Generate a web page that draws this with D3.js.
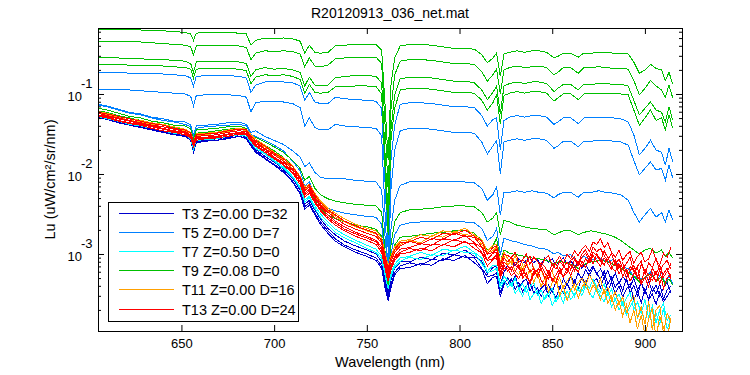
<!DOCTYPE html>
<html>
<head>
<meta charset="utf-8">
<script src="https://cdn.jsdelivr.net/npm/d3@7"></script>
<style>
  body { margin: 0; background: #fff; }
  svg text { font-family: "Liberation Sans", Arial, Helvetica, sans-serif; fill: #000; }
</style>
</head>
<body>
<div id="chart"></div>
<script>
// Wavelength grid (nm) for the smoother profiles
const wavelength = [
  605, 610, 616, 622, 628, 634, 640, 646, 652, 655,
  656.5, 658, 663, 669, 675, 681, 685, 687.5, 690, 695,
  700, 705, 710, 714, 716.5, 719, 722, 725, 729, 733,
  738, 744, 750, 755, 758, 760, 761.5, 763, 765, 768,
  773, 779, 785, 791, 797, 803, 808, 812, 815, 818,
  820, 822, 824, 827, 831, 835, 839, 843, 847, 851,
  853, 856, 860, 864, 867, 871, 875, 879, 883, 887,
  891, 894, 897, 900, 903, 906, 909, 911, 913, 915
];
// Noisy profiles (T3, T7, T11, T13) use the same grid up to 824 nm, then this finer tail
const wavelengthTail = [
  826, 828, 830, 832, 834, 836, 838, 840, 842, 844,
  846, 848, 850, 852, 854, 856, 858, 860, 862, 864,
  866, 868, 870, 872, 874, 876, 878, 880, 882, 884,
  886, 888, 890, 892, 894, 896, 898, 900, 902, 904,
  906, 908, 910, 912, 914
];
const wavelengthNoisy = wavelength.filter(w => w <= 824).concat(wavelengthTail);

// Profiles, stored as log10(Lu)
// T3 (navy)
const t3a = [
  -1.28,-1.31,-1.34,-1.38,-1.41,-1.44,-1.47,-1.49,-1.52,-1.56,
  -1.70,-1.59,-1.58,-1.56,-1.54,-1.51,-1.54,-1.63,-1.69,-1.78,
  -1.85,-1.94,-2.06,-2.20,-2.38,-2.33,-2.45,-2.56,-2.68,-2.76,
  -2.84,-2.90,-2.95,-3.00,-3.10,-3.35,-3.48,-3.33,-3.18,-3.10,
  -3.10,-3.04,-3.07,-2.99,-3.01,-2.95,-3.03,-3.09,-3.25,-3.17,
  -3.15,-3.38,-3.23,
  -3.14,-3.09,-3.15,-3.06,-3.12,-3.08,-3.04,-3.11,-3.07,-3.13,
  -3.05,-3.10,-3.06,-3.14,-3.09,-3.05,-3.12,-3.08,-3.16,-3.10,
  -3.18,-3.12,-3.22,-3.15,-3.25,-3.19,-3.28,-3.21,-3.33,-3.24,
  -3.37,-3.28,-3.34,-3.42,-3.30,-3.45,-3.36,-3.50,-3.33,-3.47,
  -3.39,-3.53,-3.42,-3.36,-3.48
];
const t3b = [
  -1.29,-1.31,-1.35,-1.39,-1.41,-1.44,-1.48,-1.50,-1.53,-1.58,
  -1.71,-1.60,-1.59,-1.58,-1.55,-1.53,-1.55,-1.64,-1.71,-1.80,
  -1.88,-1.96,-2.09,-2.24,-2.41,-2.36,-2.49,-2.60,-2.71,-2.81,
  -2.89,-2.95,-3.00,-3.05,-3.15,-3.40,-3.53,-3.38,-3.23,-3.15,
  -3.11,-3.14,-3.07,-3.08,-3.01,-3.04,-3.05,-3.18,-3.28,-3.27,
  -3.23,-3.48,-3.35,
  -3.38,-3.31,-3.44,-3.36,-3.47,-3.40,-3.34,-3.49,-3.42,-3.53,
  -3.45,-3.39,-3.48,-3.35,-3.44,-3.31,-3.40,-3.27,-3.36,-3.24,
  -3.31,-3.20,-3.27,-3.17,-3.24,-3.32,-3.21,-3.38,-3.29,-3.42,
  -3.34,-3.46,-3.30,-3.49,-3.39,-3.52,-3.35,-3.47,-3.55,-3.41,
  -3.50,-3.38,-3.56,-3.45,-3.40
];
const t3c = [
  -1.29,-1.32,-1.36,-1.39,-1.42,-1.45,-1.48,-1.51,-1.53,-1.58,
  -1.73,-1.61,-1.59,-1.58,-1.56,-1.53,-1.56,-1.65,-1.73,-1.81,
  -1.89,-1.98,-2.10,-2.25,-2.44,-2.39,-2.51,-2.63,-2.74,-2.84,
  -2.91,-2.98,-3.03,-3.08,-3.18,-3.45,-3.58,-3.43,-3.26,-3.18,
  -3.17,-3.12,-3.14,-3.06,-3.08,-3.02,-3.11,-3.19,-3.37,-3.29,
  -3.28,-3.53,-3.39,
  -3.30,-3.37,-3.27,-3.42,-3.35,-3.31,-3.46,-3.39,-3.50,-3.43,
  -3.38,-3.53,-3.45,-3.55,-3.41,-3.49,-3.36,-3.47,-3.33,-3.43,
  -3.29,-3.38,-3.25,-3.35,-3.31,-3.42,-3.28,-3.46,-3.35,-3.50,
  -3.40,-3.54,-3.44,-3.37,-3.58,-3.46,-3.61,-3.43,-3.57,-3.50,
  -3.63,-3.48,-3.60,-3.53,-3.45
];

// T5 (blue)
const t5a = [
  -0.73,-0.73,-0.73,-0.74,-0.74,-0.75,-0.75,-0.76,-0.77,-0.80,
  -0.90,-0.78,-0.77,-0.77,-0.77,-0.78,-0.80,-0.98,-0.89,-0.85,
  -0.85,-0.85,-0.86,-0.90,-1.08,-0.98,-1.10,-1.12,-1.12,-1.04,
  -1.06,-1.07,-1.08,-1.09,-1.18,-2.20,-2.95,-1.83,-1.39,-1.13,
  -1.11,-1.11,-1.12,-1.14,-1.16,-1.16,-1.17,-1.27,-1.40,-1.32,
  -1.30,-1.70,-1.33,-1.29,-1.27,-1.29,-1.27,-1.27,-1.29,-1.38,
  -1.35,-1.30,-1.30,-1.37,-1.30,-1.30,-1.29,-1.29,-1.30,-1.31,
  -1.35,-1.51,-1.76,-1.68,-1.58,-1.70,-1.73,-1.89,-1.68,-1.85
];
const t5b = [
  -0.94,-0.94,-0.94,-0.95,-0.96,-0.97,-0.98,-0.99,-1.00,-1.03,
  -1.15,-1.02,-1.01,-1.01,-1.01,-1.02,-1.04,-1.22,-1.11,-1.09,
  -1.10,-1.10,-1.12,-1.17,-1.40,-1.30,-1.42,-1.45,-1.45,-1.38,
  -1.40,-1.41,-1.42,-1.43,-1.52,-2.58,-3.26,-2.20,-1.70,-1.46,
  -1.43,-1.43,-1.44,-1.46,-1.48,-1.48,-1.49,-1.60,-1.75,-1.65,
  -1.58,-2.00,-1.60,-1.58,-1.56,-1.58,-1.56,-1.56,-1.58,-1.68,
  -1.65,-1.59,-1.59,-1.66,-1.59,-1.59,-1.58,-1.58,-1.59,-1.60,
  -1.64,-1.83,-2.01,-1.93,-1.85,-1.95,-1.93,-2.08,-1.89,-2.05
];
const t5c = [
  -1.13,-1.15,-1.19,-1.23,-1.25,-1.29,-1.31,-1.34,-1.35,-1.39,
  -1.51,-1.40,-1.39,-1.38,-1.36,-1.35,-1.38,-1.48,-1.46,-1.53,
  -1.58,-1.63,-1.71,-1.79,-1.91,-1.86,-1.98,-2.04,-2.06,-2.05,
  -2.06,-2.08,-2.09,-2.10,-2.20,-2.83,-3.26,-2.70,-2.33,-2.14,
  -2.10,-2.09,-2.09,-2.09,-2.10,-2.10,-2.11,-2.18,-2.33,-2.26,
  -2.16,-2.51,-2.23,-2.23,-2.21,-2.23,-2.21,-2.23,-2.24,-2.30,
  -2.26,-2.23,-2.23,-2.29,-2.23,-2.23,-2.21,-2.23,-2.24,-2.26,
  -2.33,-2.48,-2.60,-2.51,-2.43,-2.54,-2.48,-2.60,-2.45,-2.58
];
const t5d = [
  -1.14,-1.16,-1.20,-1.24,-1.26,-1.30,-1.33,-1.35,-1.38,-1.41,
  -1.54,-1.43,-1.41,-1.40,-1.39,-1.38,-1.40,-1.51,-1.53,-1.58,
  -1.64,-1.71,-1.84,-1.96,-2.15,-2.10,-2.26,-2.36,-2.43,-2.46,
  -2.49,-2.51,-2.53,-2.54,-2.63,-3.10,-3.39,-3.01,-2.76,-2.64,
  -2.61,-2.60,-2.59,-2.59,-2.59,-2.60,-2.61,-2.68,-2.83,-2.78,
  -2.68,-3.01,-2.80,-2.83,-2.85,-2.88,-2.90,-2.93,-2.94,-3.00,
  -2.98,-3.02,-3.01,-3.10,-3.03,-3.08,-3.04,-3.10,-3.07,-3.16,
  -3.18,-3.28,-3.30,-3.31,-3.22,-3.34,-3.24,-3.38,-3.27,-3.37
];

// T7 (cyan)
const t7a = [
  -1.28,-1.30,-1.34,-1.37,-1.39,-1.43,-1.46,-1.48,-1.51,-1.55,
  -1.68,-1.58,-1.56,-1.55,-1.53,-1.50,-1.51,-1.60,-1.66,-1.74,
  -1.83,-1.91,-2.03,-2.16,-2.33,-2.28,-2.40,-2.50,-2.60,-2.69,
  -2.76,-2.83,-2.89,-2.94,-3.03,-3.25,-3.39,-3.25,-3.13,-3.05,
  -3.03,-2.98,-3.02,-2.94,-2.96,-2.90,-2.98,-3.05,-3.22,-3.14,
  -3.14,-3.39,-3.28,
  -3.33,-3.40,-3.30,-3.44,-3.37,-3.48,-3.41,-3.35,-3.52,-3.45,
  -3.57,-3.49,-3.43,-3.60,-3.52,-3.47,-3.58,-3.44,-3.53,-3.40,
  -3.47,-3.36,-3.43,-3.32,-3.41,-3.48,-3.37,-3.52,-3.44,-3.58,
  -3.50,-3.64,-3.55,-3.48,-3.69,-3.60,-3.74,-3.57,-3.80,-3.65,
  -3.86,-3.70,-3.62,-3.83,-3.76
];
const t7b = [
  -1.28,-1.31,-1.34,-1.38,-1.40,-1.43,-1.46,-1.49,-1.51,-1.56,
  -1.69,-1.58,-1.57,-1.56,-1.53,-1.51,-1.53,-1.61,-1.68,-1.75,
  -1.84,-1.93,-2.04,-2.18,-2.35,-2.30,-2.43,-2.54,-2.64,-2.73,
  -2.80,-2.86,-2.93,-2.98,-3.06,-3.29,-3.43,-3.29,-3.16,-3.09,
  -3.04,-3.07,-3.01,-3.02,-2.95,-2.98,-2.99,-3.12,-3.23,-3.21,
  -3.18,-3.43,-3.33,
  -3.42,-3.36,-3.49,-3.44,-3.53,-3.40,-3.57,-3.50,-3.46,-3.62,
  -3.54,-3.48,-3.64,-3.56,-3.50,-3.61,-3.46,-3.57,-3.50,-3.44,
  -3.52,-3.40,-3.48,-3.55,-3.42,-3.53,-3.60,-3.47,-3.66,-3.56,
  -3.70,-3.60,-3.76,-3.66,-3.58,-3.80,-3.70,-3.86,-3.63,-3.92,
  -3.74,-3.88,-3.68,-3.94,-3.80
];

// T9 (green)
const t9a = [
  -0.19,-0.19,-0.19,-0.20,-0.20,-0.21,-0.21,-0.22,-0.23,-0.25,
  -0.33,-0.24,-0.23,-0.23,-0.23,-0.24,-0.25,-0.39,-0.33,-0.30,
  -0.31,-0.30,-0.31,-0.34,-0.49,-0.39,-0.48,-0.49,-0.48,-0.40,
  -0.39,-0.38,-0.38,-0.38,-0.45,-1.20,-1.83,-0.89,-0.55,-0.40,
  -0.38,-0.38,-0.39,-0.41,-0.43,-0.43,-0.44,-0.51,-0.61,-0.55,
  -0.49,-0.78,-0.50,-0.48,-0.46,-0.48,-0.46,-0.46,-0.48,-0.55,
  -0.53,-0.49,-0.49,-0.54,-0.49,-0.49,-0.48,-0.48,-0.49,-0.49,
  -0.50,-0.60,-0.74,-0.70,-0.63,-0.68,-0.70,-0.83,-0.73,-0.88
];
const t9b = [
  -0.34,-0.34,-0.34,-0.35,-0.35,-0.36,-0.37,-0.38,-0.39,-0.41,
  -0.51,-0.40,-0.39,-0.39,-0.39,-0.40,-0.42,-0.57,-0.49,-0.46,
  -0.47,-0.46,-0.47,-0.50,-0.66,-0.55,-0.65,-0.66,-0.64,-0.56,
  -0.55,-0.54,-0.54,-0.54,-0.62,-1.45,-2.20,-1.20,-0.76,-0.59,
  -0.57,-0.57,-0.58,-0.60,-0.62,-0.62,-0.63,-0.72,-0.84,-0.76,
  -0.69,-1.00,-0.70,-0.67,-0.65,-0.67,-0.66,-0.65,-0.67,-0.76,
  -0.73,-0.67,-0.67,-0.74,-0.67,-0.67,-0.66,-0.67,-0.68,-0.68,
  -0.69,-0.83,-1.01,-0.93,-0.83,-0.90,-0.95,-1.04,-0.89,-1.05
];
const t9c = [
  -0.54,-0.54,-0.55,-0.56,-0.56,-0.57,-0.57,-0.58,-0.59,-0.62,
  -0.73,-0.60,-0.59,-0.59,-0.59,-0.60,-0.62,-0.78,-0.70,-0.67,
  -0.69,-0.68,-0.70,-0.73,-0.90,-0.79,-0.89,-0.90,-0.89,-0.80,
  -0.78,-0.77,-0.77,-0.78,-0.86,-1.83,-2.51,-1.45,-1.01,-0.81,
  -0.79,-0.79,-0.80,-0.82,-0.84,-0.84,-0.86,-0.95,-1.07,-0.98,
  -0.90,-1.25,-0.90,-0.87,-0.85,-0.87,-0.85,-0.85,-0.87,-0.97,
  -0.93,-0.88,-0.88,-0.95,-0.88,-0.88,-0.87,-0.87,-0.88,-0.88,
  -0.90,-1.08,-1.26,-1.18,-1.10,-1.20,-1.23,-1.35,-1.16,-1.33
];
const t9d = [
  -0.63,-0.63,-0.63,-0.64,-0.64,-0.65,-0.65,-0.66,-0.67,-0.69,
  -0.80,-0.69,-0.68,-0.68,-0.68,-0.69,-0.71,-0.87,-0.79,-0.76,
  -0.77,-0.76,-0.78,-0.82,-0.99,-0.88,-0.98,-0.99,-0.98,-0.91,
  -0.91,-0.90,-0.90,-0.91,-1.00,-2.01,-2.76,-1.58,-1.18,-0.95,
  -0.93,-0.93,-0.94,-0.96,-0.98,-0.98,-0.99,-1.08,-1.20,-1.11,
  -1.01,-1.38,-1.02,-0.99,-0.97,-0.99,-0.97,-0.97,-0.99,-1.09,
  -1.05,-1.00,-1.00,-1.07,-1.00,-1.00,-0.99,-0.99,-1.00,-1.00,
  -1.01,-1.20,-1.39,-1.30,-1.20,-1.33,-1.30,-1.45,-1.26,-1.43
];
const t9e = [
  -1.18,-1.20,-1.24,-1.28,-1.30,-1.34,-1.36,-1.39,-1.40,-1.44,
  -1.56,-1.45,-1.44,-1.43,-1.41,-1.40,-1.43,-1.54,-1.54,-1.60,
  -1.66,-1.73,-1.83,-1.93,-2.08,-2.03,-2.18,-2.26,-2.31,-2.34,
  -2.36,-2.38,-2.39,-2.40,-2.48,-3.01,-3.33,-2.89,-2.60,-2.48,
  -2.45,-2.44,-2.43,-2.41,-2.40,-2.40,-2.41,-2.48,-2.60,-2.55,
  -2.48,-2.76,-2.58,-2.60,-2.64,-2.66,-2.68,-2.69,-2.70,-2.76,
  -2.74,-2.71,-2.71,-2.76,-2.73,-2.71,-2.73,-2.75,-2.78,-2.83,
  -2.90,-2.95,-3.00,-2.95,-2.93,-2.99,-2.95,-3.03,-2.98,-3.05
];
const t9f = [
  -1.21,-1.23,-1.27,-1.30,-1.33,-1.36,-1.39,-1.42,-1.44,-1.48,
  -1.60,-1.49,-1.48,-1.46,-1.44,-1.43,-1.45,-1.58,-1.58,-1.64,
  -1.71,-1.79,-1.90,-2.03,-2.21,-2.15,-2.33,-2.44,-2.51,-2.56,
  -2.60,-2.64,-2.66,-2.69,-2.78,-3.18,-3.39,-3.10,-2.89,-2.79,
  -2.78,-2.76,-2.74,-2.73,-2.71,-2.71,-2.74,-2.83,-2.95,-2.90,
  -2.80,-3.10,-2.95,-2.99,-3.01,-3.03,-3.05,-3.06,-3.08,-3.13,
  -3.10,-3.10,-3.13,-3.18,-3.13,-3.10,-3.08,-3.09,-3.13,-3.18,
  -3.23,-3.28,-3.35,-3.29,-3.25,-3.34,-3.28,-3.38,-3.31,-3.39
];

// T11 (orange)
const t11a = [
  -1.22,-1.24,-1.28,-1.31,-1.33,-1.36,-1.38,-1.41,-1.44,-1.48,
  -1.59,-1.50,-1.49,-1.48,-1.45,-1.43,-1.44,-1.51,-1.56,-1.64,
  -1.73,-1.80,-1.90,-2.03,-2.16,-2.13,-2.24,-2.34,-2.43,-2.49,
  -2.56,-2.63,-2.68,-2.71,-2.80,-3.01,-3.15,-3.03,-2.91,-2.84,
  -2.82,-2.76,-2.78,-2.71,-2.73,-2.68,-2.76,-2.82,-2.97,-2.89,
  -2.88,-3.10,-2.98,
  -3.06,-3.12,-3.02,-3.15,-3.20,-3.09,-3.24,-3.16,-3.28,-3.19,
  -3.32,-3.25,-3.21,-3.38,-3.30,-3.43,-3.34,-3.27,-3.45,-3.36,
  -3.30,-3.41,-3.26,-3.35,-3.44,-3.31,-3.50,-3.42,-3.58,-3.47,
  -3.63,-3.54,-3.72,-3.60,-3.52,-3.80,-3.66,-3.88,-3.59,-3.95,
  -3.70,-3.64,-3.99,-3.74,-3.85
];
const t11b = [
  -1.24,-1.26,-1.29,-1.33,-1.35,-1.38,-1.41,-1.43,-1.46,-1.49,
  -1.61,-1.52,-1.51,-1.49,-1.47,-1.44,-1.46,-1.54,-1.59,-1.66,
  -1.75,-1.83,-1.93,-2.05,-2.19,-2.15,-2.28,-2.38,-2.46,-2.53,
  -2.60,-2.66,-2.71,-2.75,-2.84,-3.05,-3.20,-3.06,-2.95,-2.88,
  -2.83,-2.86,-2.77,-2.79,-2.72,-2.76,-2.77,-2.88,-2.98,-2.96,
  -2.91,-3.15,-3.03,
  -3.14,-3.08,-3.21,-3.26,-3.13,-3.30,-3.19,-3.36,-3.24,-3.41,
  -3.30,-3.47,-3.36,-3.29,-3.52,-3.40,-3.58,-3.45,-3.38,-3.55,
  -3.42,-3.34,-3.50,-3.39,-3.46,-3.57,-3.44,-3.62,-3.53,-3.70,
  -3.58,-3.78,-3.64,-3.86,-3.70,-3.94,-3.76,-4.02,-3.82,-3.68,
  -4.05,-3.78,-3.92,-4.06,-3.80
];

// T13 (red)
const t13a = [
  -1.23,-1.25,-1.28,-1.31,-1.34,-1.37,-1.39,-1.43,-1.45,-1.49,
  -1.60,-1.51,-1.50,-1.49,-1.46,-1.44,-1.45,-1.53,-1.58,-1.65,
  -1.74,-1.81,-1.91,-2.04,-2.18,-2.14,-2.26,-2.36,-2.45,-2.51,
  -2.59,-2.65,-2.70,-2.74,-2.83,-3.04,-3.18,-3.05,-2.94,-2.86,
  -2.85,-2.79,-2.82,-2.74,-2.76,-2.70,-2.78,-2.84,-3.00,-2.92,
  -2.90,-3.13,-3.00,
  -3.02,-3.05,-2.98,-3.10,-3.07,-3.00,-3.13,-3.04,-3.09,-3.16,
  -3.06,-3.02,-3.14,-3.10,-3.03,-3.12,-3.00,-3.06,-2.96,-3.02,
  -2.94,-2.89,-2.97,-2.85,-2.88,-2.81,-2.92,-2.86,-2.98,-3.04,
  -2.95,-3.08,-3.01,-2.97,-3.12,-3.03,-2.98,-3.10,-3.06,-2.94,
  -3.08,-3.14,-2.99,-3.04,-2.92
];
const t13b = [
  -1.24,-1.27,-1.30,-1.33,-1.36,-1.39,-1.41,-1.44,-1.47,-1.51,
  -1.63,-1.53,-1.52,-1.51,-1.48,-1.46,-1.47,-1.55,-1.60,-1.68,
  -1.76,-1.84,-1.94,-2.06,-2.21,-2.16,-2.29,-2.39,-2.48,-2.55,
  -2.63,-2.69,-2.74,-2.78,-2.86,-3.09,-3.23,-3.10,-2.98,-2.90,
  -2.84,-2.88,-2.81,-2.82,-2.74,-2.78,-2.79,-2.91,-3.00,-2.98,
  -2.94,-3.18,-3.05,
  -3.10,-3.04,-3.14,-3.18,-3.07,-3.12,-3.03,-3.19,-3.22,-3.11,
  -3.16,-3.24,-3.13,-3.19,-3.09,-3.15,-3.21,-3.08,-3.04,-3.12,
  -3.00,-2.95,-3.05,-2.91,-2.97,-2.93,-3.02,-3.08,-2.99,-3.14,
  -3.06,-3.18,-3.12,-3.04,-3.22,-3.15,-3.09,-3.25,-3.11,-3.17,
  -3.05,-3.21,-3.13,-3.08,-3.19
];
const t13c = [
  -1.26,-1.28,-1.31,-1.34,-1.37,-1.40,-1.43,-1.46,-1.48,-1.53,
  -1.64,-1.55,-1.54,-1.53,-1.50,-1.48,-1.49,-1.56,-1.62,-1.69,
  -1.79,-1.86,-1.96,-2.09,-2.24,-2.19,-2.31,-2.41,-2.51,-2.59,
  -2.66,-2.73,-2.78,-2.83,-2.91,-3.14,-3.28,-3.15,-3.03,-2.94,
  -2.92,-2.87,-2.89,-2.81,-2.83,-2.77,-2.86,-2.92,-3.07,-2.99,
  -2.98,-3.23,-3.10,
  -3.15,-3.21,-3.10,-3.17,-3.26,-3.13,-3.22,-3.18,-3.29,-3.14,
  -3.23,-3.31,-3.19,-3.12,-3.24,-3.17,-3.10,-3.20,-3.07,-3.15,
  -3.04,-2.99,-3.08,-2.98,-3.02,-3.09,-2.96,-3.05,-3.12,-3.07,
  -3.18,-3.11,-3.24,-3.16,-3.20,-3.30,-3.13,-3.23,-3.34,-3.18,
  -3.26,-3.14,-3.29,-3.22,-3.12
];
const t13d = [
  -1.27,-1.29,-1.33,-1.36,-1.38,-1.41,-1.44,-1.47,-1.49,-1.54,
  -1.65,-1.56,-1.55,-1.54,-1.51,-1.49,-1.50,-1.58,-1.64,-1.71,
  -1.80,-1.88,-1.98,-2.10,-2.26,-2.21,-2.34,-2.44,-2.54,-2.61,
  -2.69,-2.75,-2.80,-2.85,-2.94,-3.18,-3.31,-3.18,-3.05,-2.98,
  -2.93,-2.96,-2.88,-2.89,-2.82,-2.86,-2.87,-2.98,-3.08,-3.06,
  -3.01,-3.26,-3.14,
  -3.22,-3.16,-3.25,-3.31,-3.19,-3.28,-3.35,-3.22,-3.27,-3.18,
  -3.30,-3.21,-3.34,-3.26,-3.17,-3.29,-3.23,-3.13,-3.21,-3.10,
  -3.16,-3.06,-3.11,-3.02,-3.09,-3.15,-3.05,-3.12,-3.19,-3.10,
  -3.25,-3.17,-3.30,-3.21,-3.14,-3.28,-3.36,-3.19,-3.27,-3.33,
  -3.21,-3.37,-3.25,-3.18,-3.31
];
const t13e = [
  -1.28,-1.30,-1.34,-1.37,-1.39,-1.43,-1.46,-1.48,-1.51,-1.55,
  -1.66,-1.58,-1.56,-1.55,-1.53,-1.50,-1.51,-1.59,-1.65,-1.73,
  -1.81,-1.89,-1.99,-2.13,-2.29,-2.24,-2.36,-2.46,-2.56,-2.64,
  -2.71,-2.78,-2.83,-2.88,-2.98,-3.20,-3.34,-3.20,-3.08,-3.00,
  -2.98,-2.93,-2.96,-2.88,-2.91,-2.84,-2.93,-2.99,-3.15,-3.07,
  -3.05,-3.30,-3.18,
  -3.18,-3.27,-3.22,-3.13,-3.30,-3.24,-3.37,-3.26,-3.20,-3.33,
  -3.39,-3.25,-3.31,-3.36,-3.22,-3.29,-3.18,-3.27,-3.15,-3.23,
  -3.09,-3.17,-3.04,-3.12,-3.00,-3.07,-3.14,-3.03,-3.16,-3.22,
  -3.12,-3.28,-3.20,-3.34,-3.25,-3.17,-3.38,-3.29,-3.41,-3.24,
  -3.35,-3.20,-3.43,-3.30,-3.26
];

const seriesNames = ['T3 Z=0.00 D=32', 'T5 Z=0.00 D=7', 'T7 Z=0.50 D=0',
                     'T9 Z=0.08 D=0', 'T11 Z=0.00 D=16', 'T13 Z=0.00 D=24'];
const seriesProfiles = [
  [t3a, t3b, t3c],
  [t5a, t5b, t5c, t5d],
  [t7a, t7b],
  [t9a, t9b, t9c, t9d, t9e, t9f],
  [t11a, t11b],
  [t13a, t13b, t13c, t13d, t13e]
];
const xTickValues = [650, 700, 750, 800, 850, 900];
const yMajorTicks = [1e-3, 1e-2, 1e-1];
const yTickExponents = ['-3', '-2', '-1'];

// Styling
const palette = ['#0000cd', '#0080ff', '#00ffff', '#00c000', '#ffa000', '#ff0000'];
const width = 750, height = 375;
const plot = { left: 98, right: 682, top: 28, bottom: 331 };

const svg = d3.select('#chart')
  .append('svg')
  .attr('width', width)
  .attr('height', height)
  .style('background', '#fff');

const x = d3.scaleLinear().domain([605, 920]).range([plot.left, plot.right]);
const y = d3.scaleLog().domain([1.09e-4, 0.668]).range([plot.bottom, plot.top]);

svg.append('clipPath').attr('id', 'plotClip')
  .append('rect')
  .attr('x', plot.left).attr('y', plot.top)
  .attr('width', plot.right - plot.left).attr('height', plot.bottom - plot.top);

// Spectra
const lines = svg.append('g').attr('clip-path', 'url(#plotClip)');
seriesProfiles.forEach((profiles, s) => {
  profiles.forEach(p => {
    const wl = p.length === wavelength.length ? wavelength : wavelengthNoisy;
    const pathGen = d3.line()
      .x((d, i) => x(wl[i]))
      .y(d => y(Math.pow(10, d)));
    lines.append('path')
      .datum(p)
      .attr('fill', 'none')
      .attr('stroke', palette[s])
      .attr('stroke-width', 1)
      .attr('shape-rendering', 'crispEdges')
      .attr('d', pathGen);
  });
});

// Axes (ticks pointing inward, MATLAB style)
const noDomain = g => g.select('.domain').remove();

svg.append('g')
  .attr('transform', `translate(0,${plot.bottom})`)
  .call(d3.axisBottom(x).tickValues(xTickValues).tickSizeInner(-6).tickSizeOuter(0).tickPadding(8))
  .call(noDomain)
  .call(g => g.selectAll('text').style('font-size', '13px').style('font-family', '"Liberation Sans", Arial, sans-serif'));

svg.append('g')
  .attr('transform', `translate(0,${plot.top})`)
  .call(d3.axisTop(x).tickValues(xTickValues).tickSizeInner(-6).tickSizeOuter(0).tickFormat(''))
  .call(noDomain);

const yMinorTicks = y.ticks().filter(t => !yMajorTicks.some(m => Math.abs(m - t) / m < 1e-6));

[[d3.axisLeft, plot.left], [d3.axisRight, plot.right]].forEach(([axisFn, xPos]) => {
  svg.append('g')
    .attr('transform', `translate(${xPos},0)`)
    .call(axisFn(y).tickValues(yMajorTicks).tickSizeInner(-6).tickSizeOuter(0).tickFormat(''))
    .call(noDomain);
  svg.append('g')
    .attr('transform', `translate(${xPos},0)`)
    .call(axisFn(y).tickValues(yMinorTicks).tickSizeInner(-3).tickSizeOuter(0).tickFormat(''))
    .call(noDomain);
});

// Power-of-ten labels
yMajorTicks.forEach((v, i) => {
  const ty = y(v);
  svg.append('text')
    .attr('x', 82).attr('y', ty + 7)
    .attr('text-anchor', 'end')
    .style('font-size', '13px')
    .text('10');
  svg.append('text')
    .attr('x', 81).attr('y', ty - 6)
    .style('font-size', '13px')
    .text(yTickExponents[i]);
});

// Frame
svg.append('rect')
  .attr('x', plot.left + 0.5).attr('y', plot.top + 0.5)
  .attr('width', plot.right - plot.left).attr('height', plot.bottom - plot.top)
  .attr('fill', 'none').attr('stroke', '#000').attr('stroke-width', 1);

// Titles
svg.append('text')
  .attr('x', (plot.left + plot.right) / 2).attr('y', 18)
  .attr('text-anchor', 'middle')
  .style('font-size', '14px')
  .text('R20120913_036_net.mat');

svg.append('text')
  .attr('x', (plot.left + plot.right) / 2).attr('y', 367)
  .attr('text-anchor', 'middle')
  .style('font-size', '14.5px')
  .text('Wavelength (nm)');

svg.append('text')
  .attr('transform', `translate(55,${(plot.top + plot.bottom) / 2}) rotate(-90)`)
  .attr('text-anchor', 'middle')
  .style('font-size', '14.5px')
  .text('Lu (uW/cm²/sr/nm)');

// Legend
const legend = svg.append('g');
legend.append('rect')
  .attr('x', 108.5).attr('y', 202.5)
  .attr('width', 190).attr('height', 119)
  .attr('fill', '#fff').attr('stroke', '#000');

seriesNames.forEach((name, i) => {
  const cy = Math.round(213 + i * 19.1) + 0.5;
  legend.append('line')
    .attr('x1', 119).attr('x2', 174)
    .attr('y1', cy).attr('y2', cy)
    .style('stroke', palette[i]).style('stroke-width', 1);
  legend.append('text')
    .attr('x', 182).attr('y', cy + 5)
    .style('font-size', '14.5px')
    .text(name);
});
</script>
</body>
</html>
